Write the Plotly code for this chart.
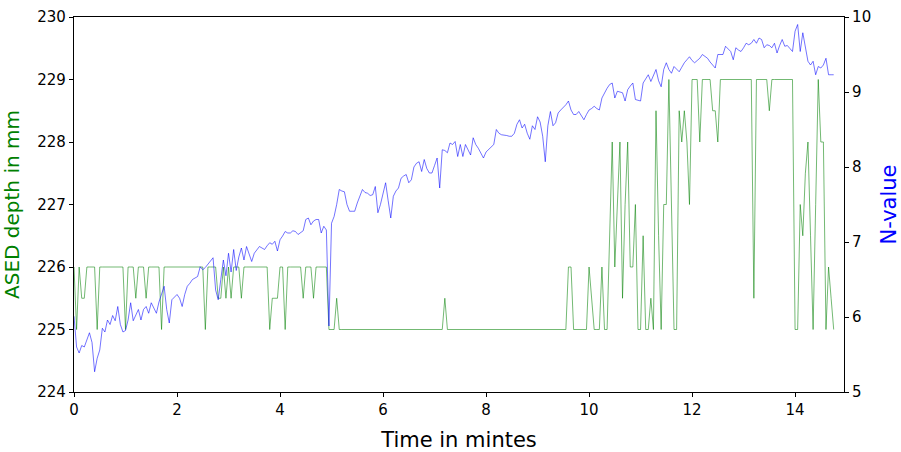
import numpy as np
import plotly.graph_objects as go

# Sampling step (minutes) of the recorded series
step_min = 0.05

# ASED depth in mm (left axis), one value per sample
ased_depth = [
    226, 225, 226, 225.5, 225.5, 226, 226, 226, 226, 225,
    226, 226, 226, 226, 226, 226, 226, 226, 226, 226,
    225, 226, 226, 226, 225.5, 226, 226, 226, 225.5, 226,
    226, 226, 226, 226, 225, 226, 226, 226, 226, 226,
    226, 226, 226, 226, 226, 226, 226, 226, 226, 226,
    226, 225, 226, 226, 226, 226, 225.5, 225.5, 226, 225.5,
    226, 225.5, 226, 226, 226, 225.5, 226, 226, 226, 226,
    226, 226, 226, 226, 226, 226, 225, 225.5, 225.5, 225.5,
    226, 226, 225, 226, 226, 226, 226, 226, 226, 225.5,
    226, 226, 226, 225.5, 226, 226, 226, 226, 226, 225,
    225, 225, 225.5, 225, 225, 225, 225, 225, 225, 225,
    225, 225, 225, 225, 225, 225, 225, 225, 225, 225,
    225, 225, 225, 225, 225, 225, 225, 225, 225, 225,
    225, 225, 225, 225, 225, 225, 225, 225, 225, 225,
    225, 225, 225, 225, 225.5, 225, 225, 225, 225, 225,
    225, 225, 225, 225, 225, 225, 225, 225, 225, 225,
    225, 225, 225, 225, 225, 225, 225, 225, 225, 225,
    225, 225, 225, 225, 225, 225, 225, 225, 225, 225,
    225, 225, 225, 225, 225, 225, 225, 225, 225, 225,
    225, 225, 226, 226, 225, 225, 225, 225, 225, 225,
    226, 225.5, 225, 225, 225, 226, 225, 225, 226.5, 228,
    226, 227, 228, 225.5, 227, 228, 226, 226, 227, 225,
    225, 226.5, 225, 225, 225.5, 225, 228.5, 226.5, 225, 227,
    227, 229, 227, 225, 225, 228.5, 228, 228.5, 228, 227,
    229, 229, 229, 228, 229, 229, 229, 229, 228.5, 228.5,
    228, 229, 229, 229, 229, 229, 229, 229, 229, 229,
    229, 229, 229, 229, 225.5, 229, 229, 229, 229, 229,
    228.5, 229, 229, 229, 229, 229, 229, 229, 229, 229,
    225, 225, 227, 226.5, 227.5, 228, 226.5, 225, 227, 229,
    228, 228, 225, 226, 225.5, 225,
]

# N-value (right axis), one value per sample
n_value = [
    6.01, 5.60, 5.52, 5.62, 5.60, 5.70, 5.79, 5.66, 5.27, 5.45,
    5.56, 5.85, 5.80, 5.96, 5.90, 6.02, 5.95, 6.14, 5.90, 5.80,
    5.82, 5.96, 6.19, 5.95, 6.02, 6.10, 5.96, 6.10, 6.14, 6.05,
    6.19, 6.12, 6.05, 6.20, 6.30, 6.41, 6.10, 5.92, 6.23, 6.27,
    6.30, 6.25, 6.14, 6.30, 6.41, 6.45, 6.50, 6.52, 6.54, 6.67,
    6.63, 6.66, 6.70, 6.74, 6.79, 6.36, 6.23, 6.50, 6.76, 6.55,
    6.85, 6.60, 6.90, 6.62, 6.80, 6.92, 6.76, 6.94, 6.85, 6.74,
    6.85, 6.90, 6.94, 6.92, 6.90, 6.95, 6.99, 6.97, 7.01, 6.88,
    7.03, 7.08, 7.14, 7.12, 7.12, 7.15, 7.14, 7.10, 7.12, 7.15,
    7.30, 7.32, 7.23, 7.28, 7.30, 7.30, 7.12, 7.21, 7.16, 5.88,
    7.25, 7.34, 7.50, 7.70, 7.68, 7.67, 7.50, 7.41, 7.41, 7.41,
    7.52, 7.62, 7.70, 7.66, 7.65, 7.62, 7.63, 7.74, 7.39, 7.50,
    7.67, 7.79, 7.55, 7.32, 7.61, 7.68, 7.72, 7.85, 7.88, 7.90,
    7.79, 7.83, 8.00, 8.05, 8.07, 7.94, 8.10, 7.98, 7.92, 7.92,
    8.02, 8.12, 7.72, 8.23, 8.22, 8.19, 8.32, 8.30, 8.34, 8.14,
    8.30, 8.14, 8.30, 8.22, 8.16, 8.39, 8.30, 8.25, 8.18, 8.12,
    8.20, 8.23, 8.27, 8.30, 8.50, 8.45, 8.43, 8.43, 8.42, 8.41,
    8.41, 8.45, 8.57, 8.63, 8.52, 8.57, 8.45, 8.37, 8.55, 8.50,
    8.67, 8.60, 8.41, 8.07, 8.55, 8.74, 8.55, 8.59, 8.72, 8.76,
    8.79, 8.83, 8.88, 8.76, 8.70, 8.70, 8.74, 8.68, 8.63, 8.70,
    8.76, 8.78, 8.81, 8.78, 8.76, 8.92, 8.99, 9.05, 9.10, 9.12,
    8.92, 9.01, 9.00, 8.99, 8.88, 9.03, 9.08, 9.12, 8.90, 8.89,
    8.88, 9.12, 9.18, 9.23, 9.14, 9.21, 9.30, 9.15, 9.07, 9.30,
    9.39, 9.30, 9.25, 9.34, 9.30, 9.27, 9.33, 9.39, 9.43, 9.47,
    9.42, 9.39, 9.42, 9.45, 9.50, 9.48, 9.45, 9.40, 9.36, 9.32,
    9.50, 9.50, 9.50, 9.61, 9.58, 9.54, 9.43, 9.59, 9.56, 9.54,
    9.59, 9.65, 9.63, 9.65, 9.70, 9.65, 9.72, 9.70, 9.59, 9.63,
    9.62, 9.59, 9.65, 9.52, 9.62, 9.70, 9.61, 9.62, 9.58, 9.54,
    9.81, 9.90, 9.54, 9.79, 9.60, 9.41, 9.36, 9.41, 9.23, 9.34,
    9.32, 9.36, 9.45, 9.23, 9.23, 9.23,
]

x_ticks = [0, 2, 4, 6, 8, 10, 12, 14]
left_ticks = [224, 225, 226, 227, 228, 229, 230]
right_ticks = [5, 6, 7, 8, 9, 10]

time_min = np.arange(len(ased_depth)) * step_min
time_n = np.arange(len(n_value)) * step_min

FONT = "DejaVu Sans"

fig = go.Figure()
fig.add_trace(go.Scatter(
    x=time_min, y=ased_depth, mode="lines",
    line=dict(color="rgba(0,128,0,0.55)", width=1),
    yaxis="y", showlegend=False,
))
fig.add_trace(go.Scatter(
    x=time_n, y=n_value, mode="lines",
    line=dict(color="rgba(0,0,255,0.55)", width=1),
    yaxis="y2", showlegend=False,
))

fig.update_layout(
    width=901, height=452,
    margin=dict(l=74, r=57, t=17, b=60, autoexpand=False),
    paper_bgcolor="white", plot_bgcolor="white",
    font=dict(family=FONT, size=15, color="black"),
    xaxis=dict(
        range=[0, 14.95], tickvals=x_ticks,
        showgrid=False, zeroline=False, automargin=False,
        showline=True, linecolor="black", linewidth=1.2, mirror=True,
        ticks="outside", ticklen=4, tickcolor="black",
        tickfont=dict(size=15, family=FONT),
        title=dict(text="Time in mintes", font=dict(size=21, family=FONT)),
    ),
    yaxis=dict(
        range=[224, 230], tickvals=left_ticks,
        showgrid=False, zeroline=False, automargin=False,
        showline=True, linecolor="black", linewidth=1.2,
        ticks="outside", ticklen=4, tickcolor="black",
        tickfont=dict(size=15, family=FONT),
        title=dict(text="ASED depth in mm", font=dict(size=20, family=FONT, color="#008000")),
    ),
    yaxis2=dict(
        range=[5, 10], tickvals=right_ticks,
        overlaying="y", side="right",
        showgrid=False, zeroline=False, automargin=False,
        showline=True, linecolor="black", linewidth=1.2,
        ticks="outside", ticklen=4, tickcolor="black",
        tickfont=dict(size=15, family=FONT),
        title=dict(text="N-value", font=dict(size=21, family=FONT, color="#0000ff")),
    ),
)

fig.write_html("out.html")
